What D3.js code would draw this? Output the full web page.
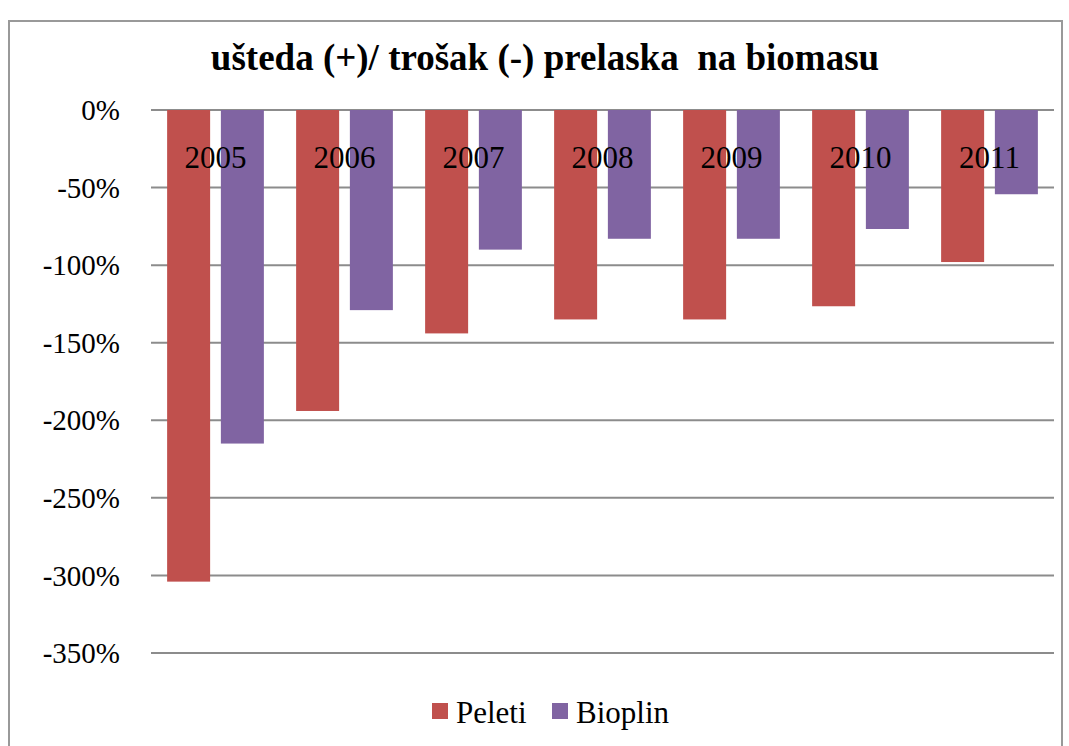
<!DOCTYPE html>
<html>
<head>
<meta charset="utf-8">
<script src="https://cdn.jsdelivr.net/npm/d3@7"></script>
<style>
  body { margin: 0; background: #fff; }
</style>
</head>
<body>
<script>
"use strict";
var years = ["2005", "2006", "2007", "2008", "2009", "2010", "2011"];
var seriesNames = ["Peleti", "Bioplin"];
var peleti = [-304, -194, -144, -135, -135, -126.5, -98];
var bioplin = [-215, -129, -90, -83, -83, -76.7, -54.3];
var yTicks = [0, -50, -100, -150, -200, -250, -300, -350];
var colors = ["#C0504D", "#8064A2"];

function draw() {
    var W = 1069, H = 746;
    var plotLeft = 151, plotRight = 1054, plotTop = 110, plotBottom = 653;
    var serif = "'Liberation Serif', Tinos, 'Nimbus Roman', 'DejaVu Serif', serif";

    var svg = d3.select("body").append("svg")
        .attr("width", W).attr("height", H)
        .attr("font-family", serif);

    // chart border
    svg.append("rect")
        .attr("x", 9).attr("y", 21)
        .attr("width", 1053).attr("height", 760)
        .attr("fill", "#fff")
        .attr("stroke", "#999").attr("stroke-width", 2);

    svg.append("text")
        .attr("x", 545).attr("y", 70)
        .attr("text-anchor", "middle")
        .style("font-family", serif)
        .style("white-space", "pre")
        .style("font-size", "37px").style("font-weight", "bold")
        .text("ušteda (+)/ trošak (-) prelaska  na biomasu");

    var y = d3.scaleLinear().domain([0, -350]).range([plotTop, plotBottom]);
    var x = d3.scaleBand().domain(years).range([plotLeft, plotRight]).paddingInner(0.25).paddingOuter(0.125);
    var x1 = d3.scaleBand().domain(seriesNames).range([0, x.bandwidth()]).paddingInner(0.2);

    // gridlines
    svg.append("g").selectAll("line").data(yTicks).join("line")
        .attr("x1", plotLeft).attr("x2", plotRight)
        .attr("y1", function(d) { return y(d); })
        .attr("y2", function(d) { return y(d); })
        .attr("stroke", "#8c8c8c").attr("stroke-width", 2);

    // y labels
    svg.append("g").selectAll("text").data(yTicks).join("text")
        .attr("x", 120)
        .attr("y", function(d) { return y(d); })
        .attr("dy", "0.35em")
        .attr("text-anchor", "end")
        .style("font-family", serif)
        .style("font-size", "29px")
        .text(function(d) { return d + "%"; });

    var data = years.map(function(yr, i) {
        return { year: yr, values: [peleti[i], bioplin[i]] };
    });

    var groups = svg.append("g").selectAll("g").data(data).join("g")
        .attr("transform", function(d) { return "translate(" + x(d.year) + ",0)"; });

    groups.selectAll("rect")
        .data(function(d) { return d.values.map(function(v, j) { return { name: seriesNames[j], v: v, j: j }; }); })
        .join("rect")
        .attr("x", function(d) { return x1(d.name); })
        .attr("y", y(0))
        .attr("width", x1.bandwidth())
        .attr("height", function(d) { return y(d.v) - y(0); })
        .attr("fill", function(d) { return colors[d.j]; });

    // category labels sit next to the 0 axis, over the bars
    svg.append("g").selectAll("text").data(years).join("text")
        .attr("x", function(d) { return x(d) + x.bandwidth() / 2; })
        .attr("y", 168)
        .attr("text-anchor", "middle")
        .style("font-family", serif)
        .style("font-size", "31px")
        .text(function(d) { return d; });

    // legend
    var legend = svg.append("g");
    var lx = [432, 552];
    seriesNames.forEach(function(n, i) {
        legend.append("rect")
            .attr("x", lx[i]).attr("y", 703)
            .attr("width", 16).attr("height", 16)
            .attr("fill", colors[i]);
        legend.append("text")
            .attr("x", lx[i] + 24).attr("y", 723)
            .style("font-family", serif)
            .style("font-size", "31px")
            .text(n);
    });
}
draw();
</script>
</body>
</html>
